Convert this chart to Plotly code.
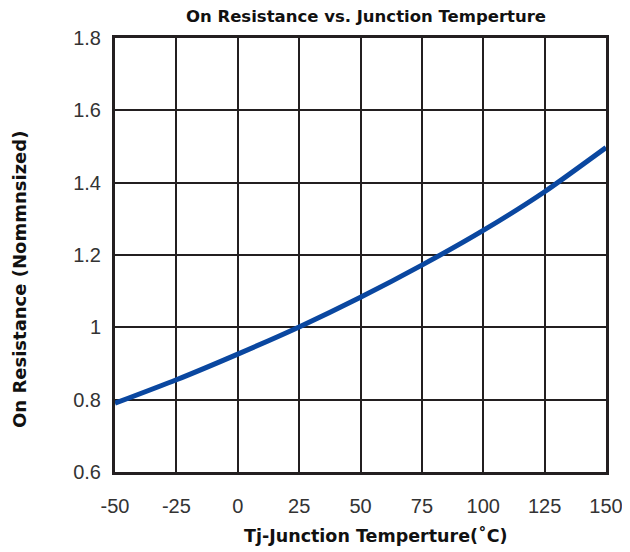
import plotly.graph_objects as go

temps = [-50, -25, 0, 25, 50, 75, 100, 125, 150]
resistance = [0.79, 0.855, 0.926, 1.001, 1.083, 1.172, 1.268, 1.375, 1.497]

x_ticks = [-50, -25, 0, 25, 50, 75, 100, 125, 150]
y_ticks = [0.6, 0.8, 1.0, 1.2, 1.4, 1.6, 1.8]
y_tick_labels = ["0.6", "0.8", "1", "1.2", "1.4", "1.6", "1.8"]

fig = go.Figure()
fig.add_trace(go.Scatter(
    x=temps, y=resistance, mode="lines",
    line=dict(color="#0a47a0", width=5, shape="spline", smoothing=0.6),
    showlegend=False, hoverinfo="skip",
))

grid = "#231f20"
title_font = "DejaVu Sans, Liberation Sans, Arial"
W, H = 622, 544
L, T, R, B = 107, 30, 598, 464  # plot edges in figure coords
pw, ph = R - L, B - T
fig.update_layout(
    width=W, height=H,
    margin=dict(l=L, r=W - R, t=T, b=H - B),
    paper_bgcolor="white", plot_bgcolor="white",
    title=dict(text="<b>On Resistance vs. Junction Temperture</b>",
               x=(L + 251) / W, xanchor="center", y=1 - 8.5 / H, yanchor="middle",
               font=dict(family=title_font, size=16.5, color="#111")),
    font=dict(family="Liberation Sans, Arial", size=20, color="#333"),
    annotations=[
        dict(text="<b>Tj-Junction Temperture(˚C)</b>", xref="paper", yref="paper",
             x=(368 - L) / pw, y=-(527 - B) / ph, xanchor="center", yanchor="middle",
             showarrow=False, font=dict(family=title_font, size=17.5, color="#111")),
        dict(text="<b>On Resistance (Nommnsized)</b>", xref="paper", yref="paper",
             x=-(L - 11) / pw, y=(B - 272) / ph, xanchor="center", yanchor="middle",
             textangle=-90, showarrow=False,
             font=dict(family=title_font, size=18, color="#111")),
    ],
)
fig.update_xaxes(
    range=[-50, 150], tickvals=x_ticks, ticktext=[str(v) for v in x_ticks],
    showgrid=True, gridcolor=grid, gridwidth=2, automargin=False,
    showline=True, linecolor=grid, linewidth=3, mirror=True,
    zeroline=False, ticks="", ticklen=0, ticklabelstandoff=14,
    ticklabeloverflow="allow",
    tickfont=dict(size=20, color="#333"),
)
fig.update_yaxes(
    range=[0.6, 1.8], tickvals=y_ticks, ticktext=y_tick_labels,
    showgrid=True, gridcolor=grid, gridwidth=2, automargin=False,
    showline=True, linecolor=grid, linewidth=3, mirror=True,
    zeroline=False, ticks="", ticklen=0, ticklabelstandoff=7,
    ticklabeloverflow="allow",
    tickfont=dict(size=20, color="#333"),
)

fig.write_html("out.html")
